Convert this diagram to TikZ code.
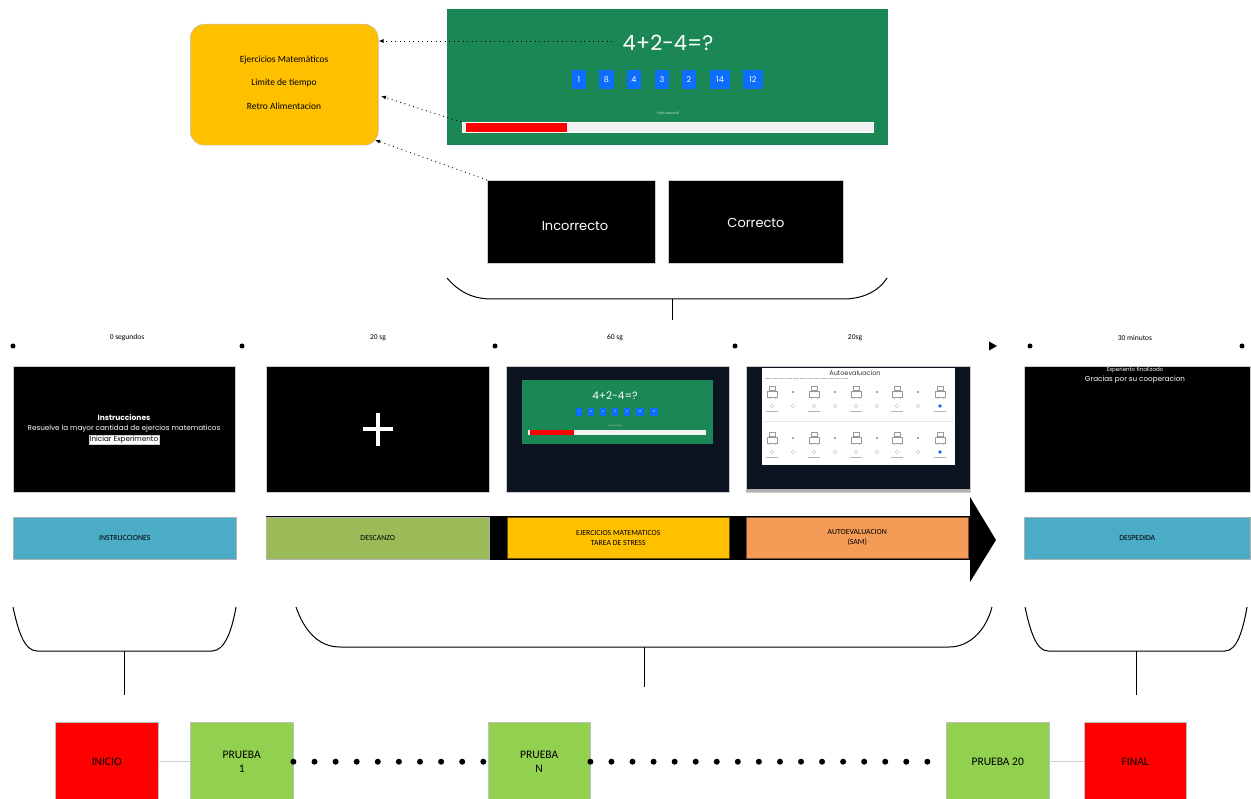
\documentclass[tikz,border=0pt]{standalone}
\usepackage{fontspec}
\setmainfont{Carlito}
\newfontfamily\gothic{Poppins}
\usetikzlibrary{arrows.meta,calc}
\definecolor{yellowbox}{HTML}{FFC000}
\definecolor{panelgreen}{HTML}{1B8754}
\definecolor{btnblue}{HTML}{0D6EFD}
\definecolor{navy}{HTML}{0C1421}
\definecolor{cyanbar}{HTML}{4BACC6}
\definecolor{restgreen}{HTML}{9BBB59}
\definecolor{samorange}{HTML}{F39B57}
\definecolor{trialgreen}{HTML}{92D050}
\definecolor{barwhite}{HTML}{F2F2F2}
\begin{document}
\begin{tikzpicture}[x=1pt,y=-1pt]
\tikzset{
  scr/.style={draw=gray!40, line width=0.4pt, anchor=north west, inner sep=0pt},
  bar/.style={draw=gray!60, line width=0.5pt, anchor=north west, inner sep=0pt, align=center, minimum height=42pt, font=\fontsize{7.8}{9.5}\selectfont},
  tlab/.style={font=\fontsize{7.5}{9}\selectfont},
  btn/.style={fill=btnblue, text=white, inner sep=0pt, font=\gothic\fontsize{8}{9}\selectfont, minimum height=19pt},
  sbtn/.style={fill=btnblue, text=white, inner sep=0pt, font=\gothic\fontsize{2.5}{3}\selectfont, minimum height=8pt},
  dotarrow/.style={line width=0.9pt, dash pattern=on 0.9pt off 3.6pt, -{Latex[length=5pt,width=4pt]}},
  brace/.style={line width=1pt},
  tdot/.style={circle, fill=black, inner sep=0pt, minimum size=5pt},
  fbox/.style={draw=gray!50, line width=0.4pt, anchor=north west, inner sep=0pt, minimum width=103pt, minimum height=79pt, align=center, font=\fontsize{11.5}{14}\selectfont},
  wtxt/.style={text=white, inner sep=0pt, font=\gothic\fontsize{#1}{#1}\selectfont},
}
\useasboundingbox (0,0) rectangle (1251,799);
\fill[white] (0,0) rectangle (1251,799);

% ---------- top: objectives box ----------
\node[draw=gray!50, line width=0.5pt, fill=yellowbox, rounded corners=14pt, minimum width=188pt, minimum height=121pt, anchor=north west, inner sep=0pt] (obj) at (190,24) {};
\node[font=\fontsize{9.5}{11}\selectfont] (o1) at (284,60) {Ejercicios Matemáticos};
\node[font=\fontsize{9.5}{11}\selectfont] (o2) at (284,83) {Limite de tiempo};
\node[font=\fontsize{9.5}{11}\selectfont] (o3) at (284,106) {Retro Alimentacion};

% ---------- top: game screen ----------
\node[fill=panelgreen, minimum width=441pt, minimum height=136pt, anchor=north west, inner sep=0pt] (game) at (447,9) {};
\node[wtxt=21] (q) at (668,43) {4+2-4=?};
\node[btn, minimum width=14pt] (b1) at (579,79.5) {1};
\node[btn, minimum width=15pt] (b2) at (606.5,79.5) {8};
\node[btn, minimum width=14pt] (b3) at (634,79.5) {4};
\node[btn, minimum width=14pt] (b4) at (662,79.5) {3};
\node[btn, minimum width=14pt] (b5) at (689,79.5) {2};
\node[btn, minimum width=20pt] (b6) at (720,79.5) {14};
\node[btn, minimum width=20pt] (b7) at (753,79.5) {12};
\node[text=white!75!panelgreen, inner sep=0pt, font=\gothic\fontsize{3.5}{4}\selectfont] (pts) at (668,113) {Puntuacion0};
\node[fill=barwhite, draw=white, line width=0.5pt, minimum width=411pt, minimum height=10pt, anchor=north west, inner sep=0pt] (pbar) at (462,122) {};
\fill[red] (466,123) rectangle (567,132);

\coordinate (d1) at (612,41);
\coordinate (d2) at (461,122);
\coordinate (d3) at (487,180);
\draw[dotarrow] (d1) -- (obj.east |- d1);
\draw[dotarrow] (d2) -- (381,96);
\draw[dotarrow] (d3) -- (375,140);

% ---------- feedback screens ----------
\node[scr, fill=black, minimum width=168pt, minimum height=83pt] (inc) at (487,180) {};
\node[wtxt=13] at (575,226) {Incorrecto};
\node[scr, fill=black, minimum width=175pt, minimum height=83pt] (cor) at (668,180) {};
\node[wtxt=13] at (756,223) {Correcto};

\draw[brace] (447,278) .. controls (460,293) and (474,299) .. (492,299) -- (843,299) .. controls (862,299) and (878,292) .. (887,278);
\coordinate (tb) at (672,299);
\coordinate (tbe) at (672,320);
\draw[line width=0.9pt] (tb) -- (tbe);

% ---------- time axis ----------
\foreach \x/\n in {13/t1,242/t2,495/t3,735/t4,1030/t5,1242/t6} \node[tdot] (\n) at (\x,346) {};
\fill (989,341.5) -- (997,346) -- (989,350.5) -- cycle;
\node[tlab] at (127,338) {0 segundos};
\node[tlab] at (378,338) {20 sg};
\node[tlab] at (615,338) {60 sg};
\node[tlab] at (855,338) {20sg};
\node[tlab] at (1135,338) {30 minutos};

% ---------- screens ----------
% instructions
\node[scr, fill=black, minimum width=222pt, minimum height=126pt] (s1) at (13,366) {};
\node[wtxt=7.5, font=\gothic\bfseries\fontsize{7.5}{8}\selectfont] at (124,418) {Instrucciones};
\node[wtxt=7.2] at (124,429) {Resuelve la mayor cantidad de ejercios matematicos};
\node[fill=white, draw=gray!40, line width=0.4pt, inner sep=1pt, font=\gothic\fontsize{7.2}{8}\selectfont] at (124,440) {Iniciar Experimento};

% rest
\node[scr, fill=black, minimum width=223pt, minimum height=126pt] (s2) at (266,366) {};
\draw[white, line width=4pt] (363,429) -- (393,429);
\draw[white, line width=4pt] (378,413) -- (378,446);

% math
\node[scr, fill=navy, minimum width=223pt, minimum height=126pt] (s3) at (506,366) {};
\node[fill=panelgreen, minimum width=191pt, minimum height=64pt, anchor=north west, inner sep=0pt] (g2) at (522,380) {};
\node[wtxt=10.5] at (615,396) {4+2-4=?};
\foreach \x/\w/\t in {579/6/1,591/6/8,603/6/4,615/6/3,627/6/2,640/8/14,654/8/12} \node[sbtn, minimum width=\w pt] at (\x,412) {\t};
\node[text=white!70!panelgreen, inner sep=0pt, font=\gothic\fontsize{2}{2}\selectfont] at (615,426) {Puntuacion0};
\fill[barwhite] (528,430) rectangle (706,435.5);
\fill[red] (530,430.5) rectangle (574,435);

% SAM
\node[scr, fill=navy, minimum width=224pt, minimum height=126pt] (s4) at (746,366) {};
\node[fill=white, minimum width=193pt, minimum height=97pt, anchor=north west, inner sep=0pt] (sam) at (762,368) {};
\node[inner sep=0pt, text=black!80, font=\gothic\fontsize{6.5}{7}\selectfont] at (855,373) {Autoevaluacion};
\draw[gray!50, line width=0.6pt, dash pattern=on 6pt off 1pt] (765,378.5) -- (848,378.5);
\foreach \y in {0,46} {
  \foreach \x in {772,814,856,897,940} {
    \draw[gray!80, line width=0.3pt] (\x-3,386+\y) rectangle (\x+3,390+\y);
    \draw[gray!80, line width=0.3pt] (\x-5,391+\y) rectangle (\x+5,397+\y);
    \draw[gray!60, line width=0.3pt] (\x-3,397+\y) -- (\x-3,399+\y) (\x+3,397+\y) -- (\x+3,399+\y);
    \fill[gray!60] (\x-6,411+\y) rectangle (\x+6,412+\y);
  }
  \foreach \x in {793,835,877,918} \fill[black!70] (\x,392+\y) circle (0.8pt);
  \foreach \x in {772,793,814,835,856,877,897,918} \draw[gray!50, line width=0.3pt] (\x,406+\y) circle (1.8pt);
  \fill[btnblue] (940,406+\y) circle (1.9pt);
}
\draw[gray!20, line width=0.5pt] (764,421) -- (953,421);
\fill[gray!60] (746,489.5) rectangle (970,492);

% goodbye
\node[scr, fill=black, minimum width=226pt, minimum height=126pt] (s5) at (1024,366) {};
\node[wtxt=5.5] at (1135,370.5) {Experiento finalizado};
\node[wtxt=7.2] at (1135,379.5) {Gracias por su cooperacion};

% ---------- phase bars ----------
\fill[black] (266,516) rectangle (972,560);
\fill[black] (970,497) -- (996,540) -- (970,582) -- cycle;
\node[bar, fill=cyanbar, minimum width=223pt] (i1) at (13,517) {INSTRUCCIONES};
\node[bar, fill=restgreen, minimum width=223pt] (i2) at (266,517) {DESCANZO};
\node[bar, fill=yellowbox, draw=black!60!yellowbox, minimum width=222pt, minimum height=41pt] (i3) at (507,517) {EJERCICIOS MATEMATICOS\\TAREA DE STRESS};
\node[bar, fill=samorange, draw=black!50!samorange, minimum width=222pt, minimum height=41pt] (i4) at (746,517) {AUTOEVALUACION\\(SAM)};
\node[bar, fill=cyanbar, minimum width=226pt] (i5) at (1024,517) {DESPEDIDA};

% ---------- lower braces ----------
\draw[brace] (13,607) .. controls (18,630) and (24,651) .. (37,651) -- (212,651) .. controls (225,651) and (232,630) .. (236,607);
\draw[brace] (296,607) .. controls (304,630) and (318,647) .. (340,647) -- (949,647) .. controls (970,647) and (986,630) .. (992,607);
\draw[brace] (1025,607) .. controls (1030,630) and (1036,651) .. (1048,651) -- (1225,651) .. controls (1237,651) and (1243,630) .. (1247,607);
\coordinate (lb1) at (124,651); \coordinate (le1) at (124,695);
\coordinate (lb2) at (644,647); \coordinate (le2) at (644,687);
\coordinate (lb3) at (1136,651); \coordinate (le3) at (1136,695);
\draw[line width=1pt] (lb1) -- (le1);
\draw[line width=1pt] (lb2) -- (le2);
\draw[line width=1pt] (lb3) -- (le3);

% ---------- trial sequence ----------
\node[fbox, fill=red] (ini) at (55,722) {INICIO};
\node[fbox, fill=trialgreen] (p1) at (190,722) {PRUEBA\\1};
\node[fbox, fill=trialgreen, minimum width=102pt] (pn) at (488,722) {PRUEBA\\N};
\node[fbox, fill=trialgreen] (p20) at (946,722) {PRUEBA 20};
\node[fbox, fill=red, minimum width=102pt] (fin) at (1084,722) {FINAL};
\draw[gray!35, line width=0.6pt] (ini.east) -- (p1.west);
\draw[gray!35, line width=0.6pt] (p20.east) -- (fin.west);
\draw[line width=6pt, line cap=round, dash pattern=on 0pt off 21.1pt] (p1.east) -- (pn.west);
\draw[line width=6pt, line cap=round, dash pattern=on 0pt off 21.06pt] (pn.east) -- (p20.west);
\end{tikzpicture}
\end{document}
